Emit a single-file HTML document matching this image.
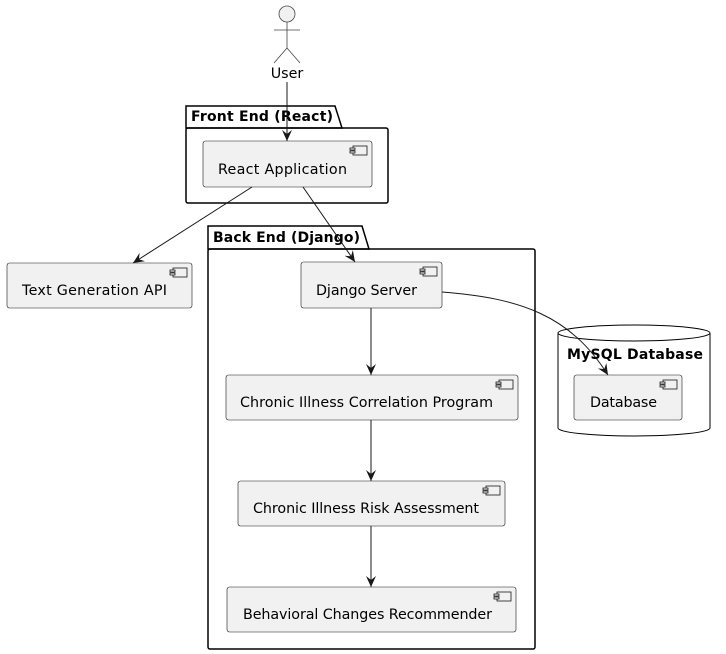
<!DOCTYPE html>
<html><head><meta charset="utf-8"><style>body{margin:0;background:#fff}svg{display:block}text{font-family:"DejaVu Sans","Liberation Sans",sans-serif}</style></head><body>
<svg width="726" height="654" viewBox="0 0 726 654" xmlns="http://www.w3.org/2000/svg">
<defs>
<marker id="a" viewBox="0 0 12 12" refX="11" refY="6" markerWidth="12" markerHeight="12" markerUnits="userSpaceOnUse" orient="auto"><path d="M0,1 L11,6 L0,11 L4,6 Z" fill="#181818"/></marker>
<g id="ic"><rect x="0" y="0" width="14" height="9" fill="#f1f1f1" stroke="#181818" stroke-width="0.8"/><rect x="-3" y="2" width="5" height="2" fill="#f1f1f1" stroke="#181818" stroke-width="0.8"/><rect x="-3" y="5" width="5" height="2" fill="#f1f1f1" stroke="#181818" stroke-width="0.8"/></g>
</defs>
<g stroke="#444" fill="none" stroke-width="0.8">
<circle cx="287" cy="14" r="8" fill="#f1f1f1"/>
<line x1="287" y1="22" x2="287" y2="48"/><line x1="274" y1="30" x2="300" y2="30"/>
<line x1="287" y1="48" x2="274" y2="63"/><line x1="287" y1="48" x2="300" y2="63"/>
</g>
<text x="287" y="78" font-size="14.3" text-anchor="middle">User</text>
<path d="M186,128 L186,106 L335,106 L342,128 Z" fill="none" stroke="#000" stroke-width="1.5"/>
<rect x="186" y="128" width="202" height="75" rx="2" fill="none" stroke="#000" stroke-width="1.5"/>
<text x="191" y="121" font-size="14" font-weight="bold" textLength="142">Front End (React)</text>
<path d="M208,249 L208,226 L362,226 L369,249 Z" fill="none" stroke="#000" stroke-width="1.5"/>
<rect x="208" y="249" width="327" height="400" rx="2" fill="none" stroke="#000" stroke-width="1.5"/>
<text x="213" y="242" font-size="14" font-weight="bold" textLength="147">Back End (Django)</text>
<path d="M558,333 L558,428 A76,8 0 0 0 710,428 L710,333" fill="none" stroke="#000" stroke-width="1"/>
<ellipse cx="634" cy="333" rx="76" ry="8" fill="none" stroke="#000" stroke-width="1"/>
<text x="567" y="359" font-size="14" font-weight="bold" textLength="136">MySQL Database</text>
<g fill="#f1f1f1" stroke="#181818" stroke-width="0.6">
<rect x="203" y="141" width="169" height="46" rx="2.5"/>
<rect x="7" y="263" width="185" height="45" rx="2.5"/>
<rect x="301" y="262" width="141" height="46" rx="2.5"/>
<rect x="226" y="375" width="292" height="45" rx="2.5"/>
<rect x="238" y="481" width="267" height="45" rx="2.5"/>
<rect x="227" y="587" width="289" height="45" rx="2.5"/>
<rect x="574" y="375" width="108" height="45" rx="2.5"/>
</g>
<use href="#ic" x="353" y="146"/><use href="#ic" x="173" y="268"/><use href="#ic" x="423" y="267"/>
<use href="#ic" x="499" y="380"/><use href="#ic" x="486" y="486"/><use href="#ic" x="497" y="592"/><use href="#ic" x="663" y="380"/>
<g font-size="14.3">
<text x="218" y="174" textLength="129">React Application</text>
<text x="22" y="295" textLength="145">Text Generation API</text>
<text x="316" y="295" textLength="101">Django Server</text>
<text x="240" y="407" textLength="253">Chronic Illness Correlation Program</text>
<text x="253" y="513" textLength="226">Chronic Illness Risk Assessment</text>
<text x="243" y="619" textLength="249">Behavioral Changes Recommender</text>
<text x="590" y="407" textLength="67">Database</text>
</g>
<g stroke="#181818" stroke-width="1" fill="none" marker-end="url(#a)">
<line x1="287" y1="82" x2="287" y2="141"/>
<line x1="252" y1="187" x2="133" y2="263"/>
<line x1="303" y1="187" x2="355" y2="262"/>
<line x1="371" y1="308" x2="371" y2="375"/>
<line x1="371" y1="420" x2="371" y2="481"/>
<line x1="371" y1="526" x2="371" y2="587"/>
<path d="M442,292 C520,298 570,315 608,375"/>
</g>
</svg>
</body></html>
